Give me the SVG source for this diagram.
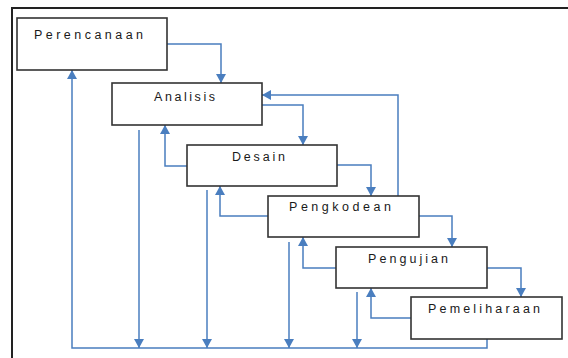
<svg xmlns="http://www.w3.org/2000/svg" width="568" height="358" viewBox="0 0 568 358">
<style>
.box{fill:#fff;stroke:#333;stroke-width:1.6}
.lbl{font-family:"Liberation Sans Narrow","Liberation Sans",Arial,sans-serif;font-size:12.5px;fill:#1a1a1a}
.c{fill:none;stroke:#4a7ebf;stroke-width:1.5}
.frame{fill:none;stroke:#222;stroke-width:2}
</style>
<defs>
<marker id="ah" markerUnits="userSpaceOnUse" markerWidth="10" markerHeight="10" refX="9" refY="5" orient="auto">
<path d="M0,0 L9,5 L0,10 Z" fill="#4a7ebf"/>
</marker>
</defs>
<path class="frame" d="M12,358 V8 H568"/>
<g id="connectors">
<path class="c" d="M167,44 H221 V83" marker-end="url(#ah)"/>
<path class="c" d="M262,105 H303 V145" marker-end="url(#ah)"/>
<path class="c" d="M337,165 H371 V196" marker-end="url(#ah)"/>
<path class="c" d="M419,216 H452 V247" marker-end="url(#ah)"/>
<path class="c" d="M487,268 H521 V297" marker-end="url(#ah)"/>
<path class="c" d="M187,166 H165 V125" marker-end="url(#ah)"/>
<path class="c" d="M268,216 H220 V186" marker-end="url(#ah)"/>
<path class="c" d="M336,268 H303 V237" marker-end="url(#ah)"/>
<path class="c" d="M411,318 H371 V288" marker-end="url(#ah)"/>
<path class="c" d="M398,196 V95 H262" marker-end="url(#ah)"/>
<path class="c" d="M139,130 V348" marker-end="url(#ah)"/>
<path class="c" d="M207,190 V348" marker-end="url(#ah)"/>
<path class="c" d="M289,242 V348" marker-end="url(#ah)"/>
<path class="c" d="M357,292 V348" marker-end="url(#ah)"/>
<path class="c" d="M487,339 V348 H72 V70" marker-end="url(#ah)"/>
</g>
<g id="perencanaan">
<rect class="box" x="17" y="18" width="150" height="52"/>
<text class="lbl" x="34" y="39" textLength="109" lengthAdjust="spacing">Perencanaan</text>
</g>
<g id="analisis">
<rect class="box" x="112" y="83" width="150" height="42"/>
<text class="lbl" x="154" y="101" textLength="61" lengthAdjust="spacing">Analisis</text>
</g>
<g id="desain">
<rect class="box" x="187" y="145" width="150" height="41"/>
<text class="lbl" x="232" y="161" textLength="53" lengthAdjust="spacing">Desain</text>
</g>
<g id="pengkodean">
<rect class="box" x="268" y="196" width="151" height="41"/>
<text class="lbl" x="289" y="211" textLength="102" lengthAdjust="spacing">Pengkodean</text>
</g>
<g id="pengujian">
<rect class="box" x="336" y="247" width="151" height="41"/>
<text class="lbl" x="368" y="263" textLength="80" lengthAdjust="spacing">Pengujian</text>
</g>
<g id="pemeliharaan">
<rect class="box" x="411" y="297" width="151" height="42"/>
<text class="lbl" x="428" y="313" textLength="112" lengthAdjust="spacing">Pemeliharaan</text>
</g>
</svg>
